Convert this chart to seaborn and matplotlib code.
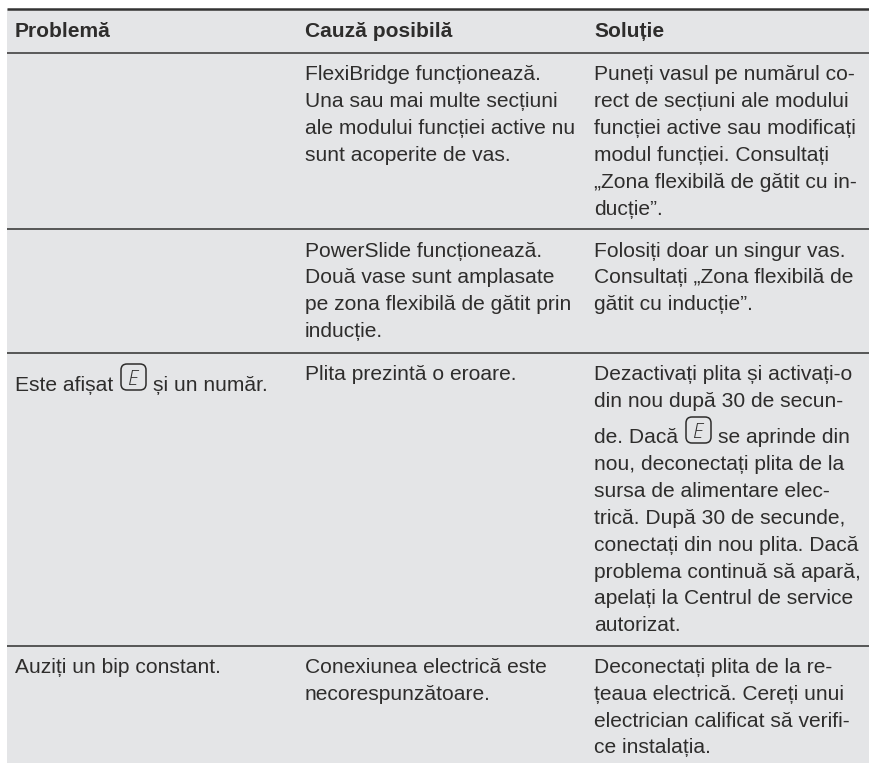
import matplotlib
matplotlib.use('Agg')
import matplotlib.pyplot as plt
from matplotlib.patches import FancyBboxPatch
import seaborn as sns

# Table text and the baseline of each line
headers = ['Problemă', 'Cauză posibilă', 'Soluție']

col_problem = ['Este afișat', 'Auziți un bip constant.']
problem_y = [391, 673]

col_cause = [
    'FlexiBridge funcționează.',
    'Una sau mai multe secțiuni',
    'ale modului funcției active nu',
    'sunt acoperite de vas.',
    'PowerSlide funcționează.',
    'Două vase sunt amplasate',
    'pe zona flexibilă de gătit prin',
    'inducție.',
    'Plita prezintă o eroare.',
    'Conexiunea electrică este',
    'necorespunzătoare.',
]
cause_y = [80, 107, 134, 161, 257, 283, 310, 337, 380, 673, 700]

col_solution = [
    'Puneți vasul pe numărul co-',
    'rect de secțiuni ale modului',
    'funcției active sau modificați',
    'modul funcției. Consultați',
    '„Zona flexibilă de gătit cu in-',
    'ducție”.',
    'Folosiți doar un singur vas.',
    'Consultați „Zona flexibilă de',
    'gătit cu inducție”.',
    'Dezactivați plita și activați-o',
    'din nou după 30 de secun-',
    'de. Dacă',
    'nou, deconectați plita de la',
    'sursa de alimentare elec-',
    'trică. După 30 de secunde,',
    'conectați din nou plita. Dacă',
    'problema continuă să apară,',
    'apelați la Centrul de service',
    'autorizat.',
    'Deconectați plita de la re-',
    'țeaua electrică. Cereți unui',
    'electrician calificat să verifi-',
    'ce instalația.',
]
solution_y = [80, 107, 134, 161, 188, 215, 257, 283, 310, 380, 407, 443, 470, 497,
              524, 551, 578, 604, 631, 673, 700, 727, 753]

sns.set_theme(style='white')
plt.rcParams['font.family'] = ['Liberation Sans', 'DejaVu Sans']

fig = plt.figure(figsize=(8.7, 7.65), dpi=100)
ax = fig.add_axes([0, 0, 1, 1])
ax.set_xlim(0, 870)
ax.set_ylim(765, 0)
ax.axis('off')

GREY = '#e4e5e7'
INK = '#2e2d2c'
ax.axhspan(9, 763, xmin=7 / 870, xmax=1, color=GREY, lw=0)
ax.hlines(9, 7, 870, color='#333333', lw=1.8)
ax.hlines(52.5, 7, 870, color='#333333', lw=1.1)
for y in [229, 352.5, 646]:
    ax.hlines(y, 7, 870, color='#4a4a4a', lw=1.3)

size = 15.1
X1, X2, X3 = 15, 305, 594.5
for x, h in zip([X1, X2, X3], headers):
    ax.text(x, 37, h, fontsize=size, fontweight='bold', color=INK, va='baseline')
for y, t in zip(problem_y, col_problem):
    ax.text(X1, y, t, fontsize=size, color=INK, va='baseline')
for y, t in zip(cause_y, col_cause):
    ax.text(X2, y, t, fontsize=size, color=INK, va='baseline')
for y, t in zip(solution_y, col_solution):
    ax.text(X3, y, t, fontsize=size, color=INK, va='baseline')
ax.text(153, 391, 'și un număr.', fontsize=size, color=INK, va='baseline')
ax.text(718, 443, 'se aprinde din', fontsize=size, color=INK, va='baseline')

# E symbol in a rounded box
for bx, by in [(121, 364), (686, 417)]:
    ax.add_patch(FancyBboxPatch((bx, by), 25, 26, boxstyle='round,pad=0,rounding_size=6',
                                fc='none', ec=INK, lw=1.1))
    ax.text(bx + 12, by + 21, 'E', fontsize=14.5, family='Open Sans', fontweight='light',
            style='italic', color=INK, ha='center', va='baseline')

fig.savefig('out.png', dpi=100)
